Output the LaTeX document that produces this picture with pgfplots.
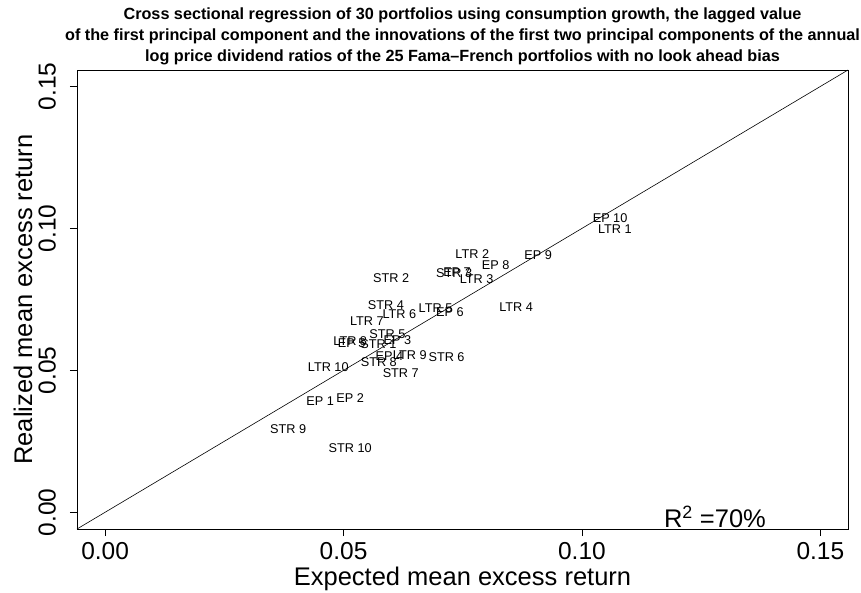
\documentclass[border=0pt]{standalone}
\usepackage{fontspec}
\setmainfont{Liberation Sans}
\usepackage{pgfplots}
\pgfplotsset{compat=1.18}
\usepackage{pgfplotstable}

% Expected (x) and realized (y) mean excess returns of the 30 portfolios
\pgfplotstableread[col sep=comma]{
x,y,name
0.1059,0.1036,EP 10
0.1069,0.0998,LTR 1
0.0908,0.0907,EP 9
0.0770,0.0910,LTR 2
0.0819,0.0872,EP 8
0.0600,0.0825,STR 2
0.0732,0.0843,STR 3
0.0738,0.0845,EP 7
0.0779,0.0822,LTR 3
0.0589,0.0728,STR 4
0.0617,0.0699,LTR 6
0.0693,0.0719,LTR 5
0.0723,0.0705,EP 6
0.0862,0.0722,LTR 4
0.0549,0.0674,LTR 7
0.0592,0.0628,STR 5
0.0613,0.0607,EP 3
0.0514,0.0603,LTR 8
0.0517,0.0595,EP 5
0.0573,0.0593,STR 1
0.0596,0.0550,EP 4
0.0639,0.0552,LTR 9
0.0716,0.0548,STR 6
0.0574,0.0530,STR 8
0.0468,0.0513,LTR 10
0.0620,0.0489,STR 7
0.0451,0.0393,EP 1
0.0514,0.0401,EP 2
0.0384,0.0293,STR 9
0.0514,0.0225,STR 10
}\portfolios

\begin{document}
\begin{tikzpicture}
\path[use as bounding box] (-77pt,-63pt) rectangle (784pt,529pt);
\begin{axis}[
  at={(0pt,0pt)}, anchor=south west,
  scale only axis, width=771pt, height=459pt,
  xmin=-0.0059, xmax=0.1558, ymin=-0.0059, ymax=0.1558,
  axis line style={line width=0.8pt},
  xtick={0,0.05,0.1,0.15}, ytick={0,0.05,0.1,0.15},
  scaled ticks=false,
  tick align=outside, major tick length=7pt,
  tick style={line width=0.8pt, black},
  xtick pos=bottom, ytick pos=left,
  /pgf/number format/.cd, fixed, fixed zerofill, precision=2, assume math mode=true,
  /pgfplots/.cd,
  ticklabel style={font=\fontsize{24.5}{28}\selectfont, inner sep=0pt},
  xticklabel style={anchor=north, yshift=-6pt},
  yticklabel style={xshift=-14pt, rotate=90, anchor=south},
  xlabel={Expected mean excess return},
  ylabel={Realized mean excess return},
  label style={font=\fontsize{25.5}{30}\selectfont, inner sep=0pt},
  xlabel style={at={([yshift=-50pt]axis description cs:0.5,0)}, anchor=center},
  ylabel style={at={([xshift=-54pt]axis description cs:0,0.5)}, anchor=center},
  clip=false,
]
\addplot[black, line width=0.6pt] coordinates {(-0.0059,-0.0059) (0.1558,0.1558)};
\addplot[only marks, mark=none, nodes near coords, point meta=explicit symbolic,
  every node near coord/.append style={anchor=center, inner sep=0pt,
    font=\fontsize{12.7}{15}\selectfont}]
  table[x=x, y=y, meta=name] {\portfolios};
\node[font=\fontsize{25.5}{30}\selectfont, anchor=center, inner sep=0pt]
  at (axis cs:0.1279,-0.0016) {R\textsuperscript{2} =70\%};
\node[font=\fontsize{16.2}{21}\selectfont\bfseries, align=center, anchor=center, inner sep=0pt]
  at ([yshift=34pt]rel axis cs:0.5,1)
  {Cross sectional regression of 30 portfolios using consumption growth, the lagged value\\
   of the first principal component and the innovations of the first two principal components of the annual\\
   log price dividend ratios of the 25 Fama--French portfolios with no look ahead bias};
\end{axis}
\end{tikzpicture}
\end{document}
